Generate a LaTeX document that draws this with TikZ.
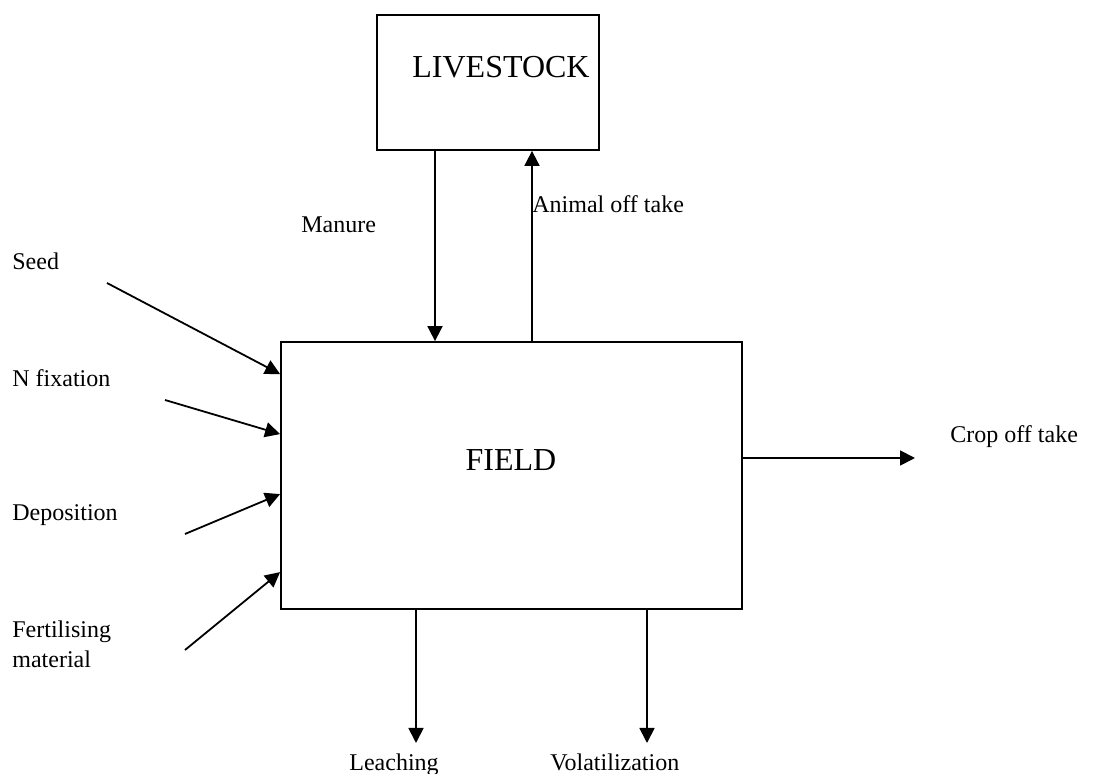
\documentclass[tikz,border=0pt]{standalone}
\usepackage{fontspec}
\setmainfont{Liberation Serif}
\usetikzlibrary{calc,arrows.meta}

\tikzset{
  box/.style={draw, line width=0.9pt, inner sep=0pt},
  flow/.style={line width=0.9pt, -{Triangle[length=7.5pt,width=7.5pt]}},
  lbl/.style={inner sep=0pt, font=\fontsize{12}{15}\selectfont},
  big/.style={inner sep=0pt, font=\fontsize{16}{19}\selectfont}
}

\begin{document}
\begin{tikzpicture}[x=0.5pt, y=-0.5pt]
  \useasboundingbox (0,0) rectangle (1093,774);

  % the two pools
  \node[box, minimum width=111pt, minimum height=67.5pt] (livestock) at (488,82.5) {};
  \node[box, minimum width=230.5pt, minimum height=133.5pt] (field) at (511.5,475.5) {};
  \node[big, anchor=base] (livestocktext) at (501,78) {LIVESTOCK};
  \node[big, anchor=base] (fieldtext) at (511,471) {FIELD};

  % inputs on the left
  \node[lbl, anchor=base west] (seed) at (12,270) {Seed};
  \node[lbl, anchor=base west] (nfix) at (12,387) {N fixation};
  \node[lbl, anchor=base west] (depo) at (12,521) {Deposition};
  \node[lbl, anchor=west, align=left] (fert) at (12,644) {Fertilising\\material};

  \coordinate (seedfrom) at (107,283);
  \coordinate (nfixfrom) at (165,400);
  \coordinate (depofrom) at (185,534);
  \coordinate (fertfrom) at (185,650);

  \foreach \src/\dy in {seedfrom/33, nfixfrom/93, depofrom/153, fertfrom/231} {
    \draw[flow] (\src) -- ($ (field.north west) + (0,\dy) $);
  }

  % exchange with livestock
  \coordinate (manurex) at (435,0);
  \coordinate (offtakex) at (532,0);
  \draw[flow] (livestock.south -| manurex) -- (field.north -| manurex);
  \draw[flow] (field.north -| offtakex) -- (livestock.south -| offtakex);
  \node[lbl, anchor=base west] (manure) at (301,233) {Manure};
  \node[lbl, anchor=base west] (animal) at (532,213) {Animal off take};

  % outputs
  \coordinate (cropto) at (915,458);
  \coordinate (leachto) at (416,743);
  \coordinate (volato) at (647,743);
  \draw[flow] (field.east |- cropto) -- (cropto);
  \draw[flow] (field.south -| leachto) -- (leachto);
  \draw[flow] (field.south -| volato) -- (volato);
  \node[lbl, anchor=base west] (crop) at (950,443) {Crop off take};
  \node[lbl, anchor=base west] (leach) at (349,770) {Leaching};
  \node[lbl, anchor=base west] (vola) at (550,770) {Volatilization};
\end{tikzpicture}
\end{document}
